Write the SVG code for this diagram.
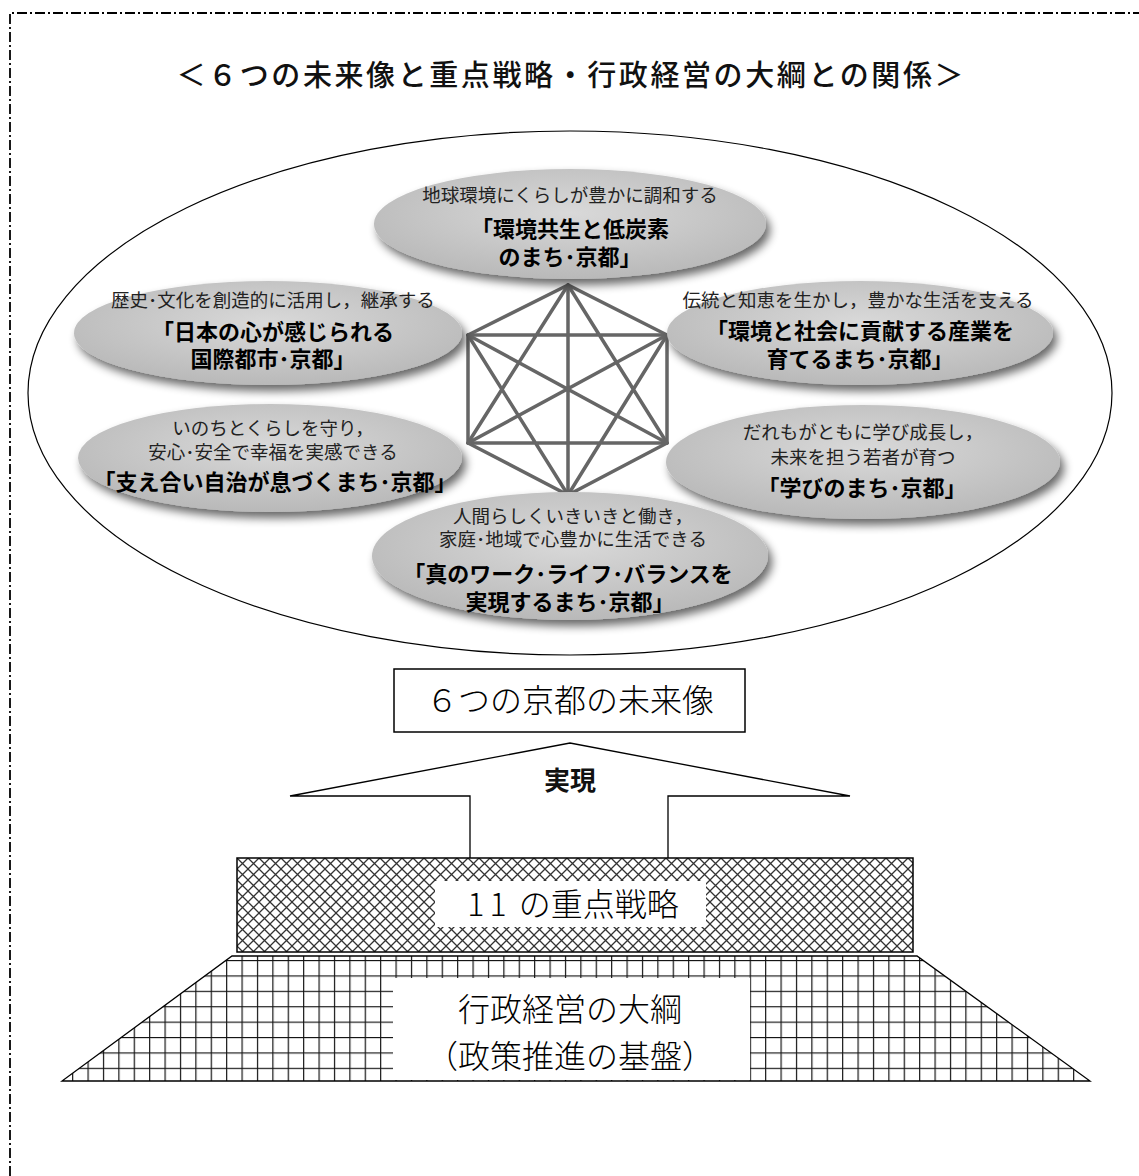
<svg xmlns="http://www.w3.org/2000/svg" width="1139" height="1176" viewBox="0 0 1139 1176">
<style>
text{font-family:"Noto Sans CJK JP","Noto Sans",sans-serif;fill:#111;text-anchor:middle}
.s{font-size:18.5px;fill:#222}
.b{font-size:22px;font-weight:bold;fill:#000}
.box{font-size:32px;font-weight:300;fill:#000}
.ov{fill:url(#g1);filter:url(#sh)}
.hex{stroke:#666;stroke-width:3.5;fill:none;stroke-linecap:round}
</style>
<defs>
<radialGradient id="g1" cx="50%" cy="40%" r="60%">
<stop offset="0" stop-color="#d9d9d9"/>
<stop offset="1" stop-color="#b9b9b9"/>
</radialGradient>
<filter id="sh" x="-20%" y="-30%" width="140%" height="170%">
<feGaussianBlur in="SourceAlpha" stdDeviation="5"/>
<feOffset dx="4" dy="6" result="o"/>
<feComponentTransfer><feFuncA type="linear" slope="0.6"/></feComponentTransfer>
<feMerge><feMergeNode/><feMergeNode in="SourceGraphic"/></feMerge>
</filter>
<pattern id="xh" width="11" height="11" patternUnits="userSpaceOnUse" x="237" y="858">
<path d="M-1,-1 L12,12 M12,-1 L-1,12" stroke="#333" stroke-width="1.3"/>
</pattern>
<pattern id="grid" width="15.4" height="15.4" patternUnits="userSpaceOnUse" x="10.5" y="5.2">
<path d="M1,0 V15.4 M0,1 H15.4" stroke="#aaa" stroke-width="1"/>
<path d="M0,0 V15.4 M0,0 H15.4" stroke="#111" stroke-width="2"/>
</pattern>
</defs>
<rect width="1139" height="1176" fill="#fff"/>
<path d="M10,1176 V13 H1139" fill="none" stroke="#000" stroke-width="1.8" stroke-dasharray="10 3 2 3"/>
<text x="570" y="86" font-size="29" font-weight="500" textLength="787" lengthAdjust="spacing">＜６つの未来像と重点戦略・行政経営の大綱との関係＞</text>

<g id="outer-ellipse">
<ellipse cx="570" cy="393" rx="542" ry="262" fill="none" stroke="#000" stroke-width="1.2"/>
</g>

<g id="connectors">
<g id="hexagon" class="hex">
<path d="M568,285 L468,335 L468,443 L568,495 L667,443 L667,335 Z"/>
<path d="M568,285 L468,443 M568,285 L667,443 M468,335 L667,335 M468,443 L667,443 M568,495 L468,335 M568,495 L667,335"/>
<path d="M568,285 L568,495 M468,335 L667,443 M667,335 L468,443"/>
</g>
<g id="arrow-jitsugen">
<path d="M470,858 V796 H290 L570,743 L850,796 H668 V858" fill="#fff" stroke="#000" stroke-width="1.3"/>
<text x="570" y="790" font-size="26" font-weight="bold">実現</text>
</g>
</g>

<g id="node-kankyo">
<ellipse class="ov" cx="570" cy="224" rx="196" ry="55"/>
<text class="s" x="570" y="202">地球環境にくらしが豊かに調和する</text>
<text class="b" x="570" y="237">「環境共生と低炭素</text>
<text class="b" x="570" y="265">のまち･京都」</text>
</g>

<g id="node-nihon">
<ellipse class="ov" cx="268" cy="333" rx="194" ry="52"/>
<text class="s" x="273" y="307">歴史･文化を創造的に活用し，継承する</text>
<text class="b" x="273" y="340">「日本の心が感じられる</text>
<text class="b" x="273" y="367">国際都市･京都」</text>
</g>

<g id="node-sangyo">
<ellipse class="ov" cx="860" cy="333" rx="193" ry="52"/>
<text class="s" x="858" y="307">伝統と知恵を生かし，豊かな生活を支える</text>
<text class="b" x="860" y="339">「環境と社会に貢献する産業を</text>
<text class="b" x="860" y="367">育てるまち･京都」</text>
</g>

<g id="node-jichi">
<ellipse class="ov" cx="270" cy="458" rx="192" ry="54"/>
<text class="s" x="273" y="435">いのちとくらしを守り，</text>
<text class="s" x="273" y="459">安心･安全で幸福を実感できる</text>
<text class="b" x="275" y="490">「支え合い自治が息づくまち･京都」</text>
</g>

<g id="node-manabi">
<ellipse class="ov" cx="863" cy="462" rx="197" ry="57"/>
<text class="s" x="863" y="439">だれもがともに学び成長し，</text>
<text class="s" x="863" y="464">未来を担う若者が育つ</text>
<text class="b" x="862" y="496">「学びのまち･京都」</text>
</g>

<g id="node-wlb">
<ellipse class="ov" cx="570" cy="556" rx="198" ry="64"/>
<text class="s" x="573" y="523">人間らしくいきいきと働き，</text>
<text class="s" x="573" y="546">家庭･地域で心豊かに生活できる</text>
<text class="b" x="568" y="582">「真のワーク･ライフ･バランスを</text>
<text class="b" x="570" y="610">実現するまち･京都」</text>
</g>

<g id="node-miraizo">
<rect x="394" y="669" width="351" height="63" fill="#fff" stroke="#000" stroke-width="1.5"/>
<text class="box" x="570" y="712">６つの京都の未来像</text>
</g>

<g id="node-juten">
<rect x="237" y="858" width="676" height="94" fill="url(#xh)" stroke="#000" stroke-width="1.5"/>
<rect x="435" y="881" width="271" height="46" fill="#fff"/>
<text class="box" x="573" y="916"><tspan letter-spacing="5">11</tspan> の重点戦略</text>
</g>

<g id="node-taiko">
<path d="M232,956 H917 L1090,1081 H62 Z" fill="url(#grid)" stroke="#000" stroke-width="1.3"/>
<rect x="393" y="978" width="357" height="102" fill="#fff"/>
<text class="box" x="570" y="1021">行政経営の大綱</text>
<text class="box" x="570" y="1068">（政策推進の基盤）</text>
</g>
</svg>
